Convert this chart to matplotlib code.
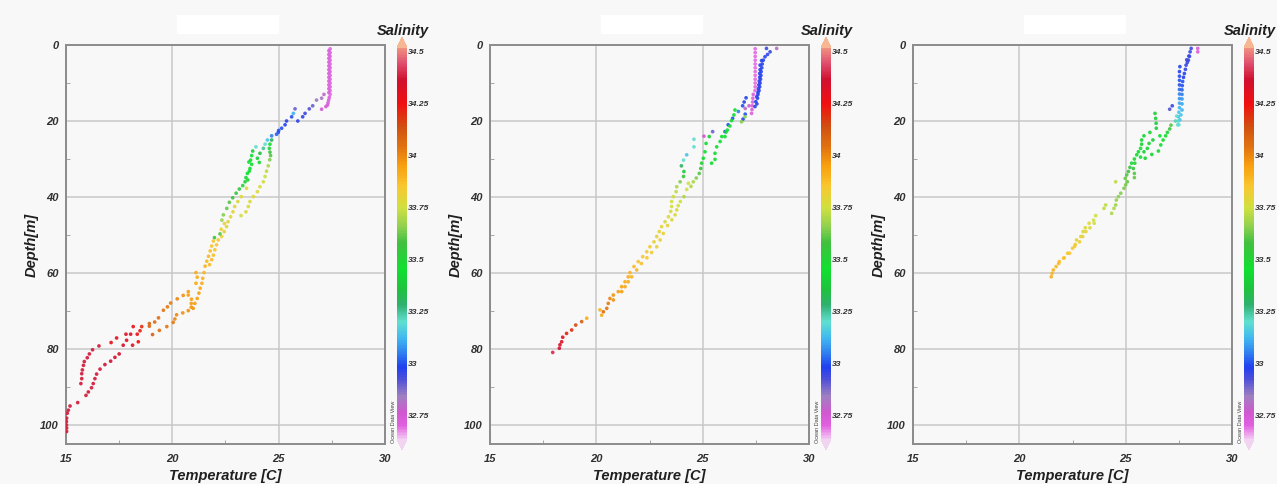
import matplotlib
matplotlib.use('Agg')
import matplotlib.pyplot as plt
from matplotlib.colors import LinearSegmentedColormap, Normalize
from matplotlib.patches import Rectangle
from matplotlib.ticker import MultipleLocator

plt.rcParams['font.family'] = ['Liberation Sans', 'DejaVu Sans']

# ---- data (depth m, temperature C, salinity) ----
st1_depth = (
    [1, 2, 3, 4, 5, 6, 7, 8, 9, 10, 11, 12, 13]
    + [1.5, 2.5, 3.5, 4.5, 5.5, 6.5, 7.5, 8.5, 9.5, 10.5, 11.5, 12.5]
    + [13.8, 14.5, 15.2, 15.8, 16.2, 16.9]
    + [13, 14, 14.5, 16, 16.8, 18, 18.9, 20, 16.8, 18, 18.9, 20, 21, 21.9, 22.5, 23, 23.5, 23.9]
    + [25, 26.1, 27.2, 28.2, 29.1, 30.2, 31.8, 33.2, 34.6, 36, 37.3, 38.6, 39.9, 41.2, 42.5, 43.9, 44.9]
    + [25, 26.1, 27.2, 28.5, 29.8, 30.9]
    + [26.8, 27.9, 29.1, 30.3, 31.4, 32.5, 33.8, 34.9, 36, 37, 37.9, 39, 40.2, 41.4, 43, 44.7, 46.1, 30.8, 33.2, 35.5]
    + [37.7, 39.9, 41.2, 42.5, 43.9, 45.2, 46.5, 47.8, 49.1, 50.4]
    + [49.7, 50.7]
    + [47, 48.5, 51.3, 52.6, 53.9, 55.3, 51.6, 52.9, 54.2, 55.6, 56.9, 58.2, 56.5, 57.8]
    + [59.9, 61.1, 62.7, 64.9, 65.8, 66.9, 68, 69, 69.9, 70.5, 71, 72.1, 73]
    + [59.9, 61.4, 62.7, 64, 65.3, 66.7, 68, 69.3]
    + [66.8, 65.9, 67.9, 68.9, 69.8, 71.8, 72.9, 73.3, 74, 74.1, 75.1, 76.2]
    + [74.1, 75.2, 76.1, 74.1, 76.1, 78.1, 79, 77.7, 76.1, 79, 77.1, 78.3]
    + [79.2, 80.2, 81.3, 82.3, 83.3, 84.3, 85.5, 86.5, 87.8, 89.1]
    + [81.3, 82.2, 83.2, 84.1, 85.3, 86.6, 87.8, 89.1, 90.2, 91.3, 92.2, 94.1, 95, 96.1, 96.9, 98.2, 99.1, 100, 100.8, 101.7]
)
st1_temp = (
    [27.42, 27.42, 27.42, 27.42, 27.42, 27.42, 27.42, 27.42, 27.42, 27.42, 27.42, 27.42, 27.42]
    + [27.36, 27.36, 27.36, 27.36, 27.36, 27.36, 27.36, 27.36, 27.36, 27.36, 27.36, 27.36]
    + [27.38, 27.35, 27.32, 27.3, 27.22, 27.02]
    + [27.13, 27.02, 26.78, 26.6, 26.44, 26.24, 26.13, 25.9, 25.77, 25.69, 25.61, 25.37, 25.3, 25.14, 25.0, 24.98, 24.9, 24.67]
    + [24.67, 24.59, 24.56, 24.59, 24.62, 24.58, 24.51, 24.43, 24.36, 24.28, 24.12, 24.0, 23.81, 23.65, 23.57, 23.46, 23.23]
    + [24.47, 24.36, 24.28, 24.12, 24.0, 24.09]
    + [23.93, 23.78, 23.73, 23.68, 23.73, 23.65, 23.53, 23.46, 23.42, 23.31, 23.15, 23.0, 22.84, 22.68, 22.56, 22.4, 22.33, 23.6, 23.62, 23.55]
    + [23.49, 23.24, 23.08, 22.93, 22.85, 22.74, 22.62, 22.55, 22.44, 22.32]
    + [22.24, 21.98]
    + [22.45, 22.3, 22.16, 22.08, 22.0, 21.93, 21.93, 21.85, 21.78, 21.7, 21.62, 21.54, 21.85, 21.75]
    + [21.11, 21.17, 21.11, 20.75, 20.75, 20.9, 20.89, 20.89, 20.75, 20.49, 20.2, 20.12, 20.04]
    + [21.49, 21.43, 21.39, 21.31, 21.25, 21.17, 21.06, 20.98]
    + [20.23, 20.51, 19.92, 19.77, 19.58, 19.35, 19.17, 18.92, 18.92, 19.74, 19.39, 19.07]
    + [18.56, 18.48, 18.35, 18.16, 18.04, 18.4, 18.13, 17.85, 17.82, 17.69, 17.38, 17.12]
    + [16.55, 16.25, 16.1, 16.0, 15.86, 15.82, 15.77, 15.74, 15.74, 15.7]
    + [17.5, 17.3, 17.1, 16.83, 16.6, 16.44, 16.36, 16.28, 16.2, 16.05, 15.94, 15.55, 15.19, 15.11, 15.06, 15.03, 15.02, 15.02, 15.03, 15.03]
)
st1_sal = (
    [32.70, 32.70, 32.70, 32.70, 32.70, 32.70, 32.70, 32.70, 32.70, 32.70, 32.70, 32.70, 32.70]
    + [32.72, 32.72, 32.72, 32.72, 32.72, 32.72, 32.72, 32.72, 32.72, 32.72, 32.72, 32.72]
    + [32.72, 32.72, 32.73, 32.74, 32.75, 32.76]
    + [32.80, 32.82, 32.85, 32.90, 32.92, 32.95, 32.96, 32.97, 32.90, 33.12, 33.00, 32.97, 32.98, 33.00, 33.00, 33.00, 33.02, 33.05]
    + [33.30, 33.45, 33.50, 33.55, 33.60, 33.65, 33.70, 33.72, 33.74, 33.76, 33.77, 33.78, 33.78, 33.78, 33.78, 33.78, 33.76]
    + [33.15, 33.20, 33.25, 33.35, 33.40, 33.45]
    + [33.20, 33.40, 33.45, 33.45, 33.45, 33.45, 33.45, 33.45, 33.50, 33.50, 33.55, 33.55, 33.58, 33.60, 33.62, 33.65, 33.68, 33.45, 33.45, 33.50]
    + [33.78, 33.78, 33.78, 33.80, 33.80, 33.80, 33.80, 33.80, 33.82, 33.82]
    + [33.60, 33.55]
    + [33.80, 33.82, 33.85, 33.85, 33.86, 33.87, 33.85, 33.86, 33.87, 33.88, 33.88, 33.90, 33.88, 33.88]
    + [33.92, 33.92, 33.93, 33.95, 33.95, 33.95, 33.96, 33.97, 33.98, 33.98, 34.00, 34.00, 34.02]
    + [33.90, 33.90, 33.92, 33.93, 33.94, 33.95, 33.96, 33.97]
    + [34.00, 33.98, 34.02, 34.03, 34.04, 34.05, 34.06, 34.08, 34.08, 34.04, 34.06, 34.10]
    + [34.20, 34.22, 34.25, 34.28, 34.30, 34.25, 34.30, 34.30, 34.32, 34.35, 34.30, 34.28]
    + [34.38, 34.38, 34.38, 34.38, 34.38, 34.38, 34.38, 34.38, 34.38, 34.38]
    + [34.35, 34.35, 34.36, 34.37, 34.38, 34.38, 34.38, 34.38, 34.38, 34.38, 34.38, 34.38, 34.38, 34.38, 34.38, 34.38, 34.38, 34.38, 34.38, 34.38]
)

st2_depth = (
    [1, 2, 3, 4, 5, 6, 7, 8, 9, 10, 11, 12]
    + [13, 14, 15, 16, 17, 18]
    + [16.0, 16.7]
    + [0.9, 1.8, 3.1, 4.1, 5.3, 6.5, 7.5, 8.5, 9.5, 10.5, 11.5, 12.5, 13.6, 14.9, 16.2]
    + [2.5, 4, 5, 6, 7, 8, 9, 10, 11, 12, 13, 14, 15.5]
    + [0.9]
    + [13.9, 15, 16, 17.5, 19.3, 21, 22.8, 18.2, 19.5]
    + [17.1, 18.4, 19.9, 21.3, 22.4, 24.1, 25.4, 26.8, 28.5, 30.1, 31.1, 24.1, 22.9]
    + [18.9, 20.2]
    + [22.8, 24.1, 25.9, 28.1, 29.8, 31.1, 32.5, 33.8, 35, 36, 37.2, 24.0]
    + [24.8, 26.8, 28.9, 30.3, 31.8, 33.3, 34.6, 36, 37.3, 38.6, 39.9, 41.2, 42.5, 43.8, 45.2, 46.5, 47.8, 49.1, 50.4,
       51.8, 53.1, 54.4, 55.7, 57, 58.3, 59.9, 61, 62.3, 63.6, 64.9, 65.8, 66.7, 68, 69.3, 70.2, 69.7, 71.1]
    + [36.4, 38, 39.9, 41.2, 42.3, 43.4, 44.7, 46, 47.5, 49.6, 51.3, 53.1, 54.6, 56, 57.5, 59.2, 61, 62.3, 63.6, 64.9, 67.1]
    + [71.9, 72.8, 73.7, 75, 75.9, 76.9, 78.1, 78.9, 79.8, 80.9]
)
st2_temp = (
    [27.47, 27.47, 27.47, 27.47, 27.47, 27.47, 27.47, 27.47, 27.47, 27.47, 27.47, 27.46]
    + [27.38, 27.36, 27.35, 27.33, 27.32, 27.3]
    + [27.18, 27.0]
    + [28.0, 28.17, 27.93, 27.77, 27.7, 27.7, 27.68, 27.68, 27.66, 27.64, 27.62, 27.6, 27.54, 27.5, 27.46]
    + [28.05, 27.85, 27.8, 27.78, 27.75, 27.74, 27.72, 27.7, 27.68, 27.65, 27.6, 27.58, 27.55]
    + [28.48]
    + [27.04, 26.95, 26.88, 26.68, 26.41, 26.2, 26.05, 27.0, 26.9]
    + [26.52, 26.47, 26.36, 26.28, 26.16, 26.05, 25.82, 25.66, 25.58, 25.58, 25.42, 25.9, 26.1]
    + [26.99, 26.83]
    + [25.47, 25.31, 25.16, 25.11, 25.03, 24.95, 24.91, 24.84, 24.7, 24.56, 24.45, 25.06]
    + [24.59, 24.59, 24.25, 24.1, 24.0, 24.12, 24.1, 23.94, 23.78, 23.75, 23.62, 23.54, 23.54, 23.5, 23.39, 23.23, 23.07, 22.96, 22.84,
       22.71, 22.52, 22.37, 22.18, 21.97, 21.77, 21.58, 21.5, 21.35, 21.19, 21.03, 20.8, 20.64, 20.56, 20.49, 20.33, 20.17, 20.25]
    + [24.33, 24.25, 24.12, 23.95, 23.85, 23.78, 23.7, 23.55, 23.35, 23.15, 23.0, 22.84, 22.6, 22.38, 22.12, 21.9, 21.66, 21.5, 21.35, 21.19, 20.8]
    + [19.55, 19.31, 19.03, 18.84, 18.6, 18.42, 18.37, 18.29, 18.26, 17.95]
)
st2_sal = (
    [32.70, 32.70, 32.70, 32.70, 32.70, 32.70, 32.70, 32.70, 32.70, 32.70, 32.70, 32.70]
    + [32.72, 32.72, 32.72, 32.72, 32.72, 32.72]
    + [32.76, 32.80]
    + [32.95, 32.95, 32.97, 32.97, 32.97, 32.97, 32.97, 32.97, 32.97, 32.97, 32.97, 32.97, 32.97, 32.97, 32.97]
    + [32.96, 32.97, 32.97, 32.97, 32.97, 32.97, 32.97, 32.97, 32.97, 32.97, 32.97, 32.97, 32.97]
    + [32.80]
    + [32.97, 32.97, 33.00, 33.05, 33.00, 32.98, 33.00, 33.00, 32.98]
    + [33.45, 33.45, 33.45, 33.45, 33.45, 33.45, 33.45, 33.45, 33.45, 33.45, 33.45, 33.45, 33.45]
    + [33.65, 33.65]
    + [32.90, 33.40, 33.45, 33.45, 33.45, 33.50, 33.55, 33.60, 33.65, 33.70, 33.70, 32.75]
    + [33.20, 33.20, 33.15, 33.20, 33.30, 33.40, 33.55, 33.65, 33.70, 33.72, 33.74, 33.75, 33.76, 33.77, 33.78, 33.78, 33.80, 33.80, 33.81,
       33.82, 33.83, 33.84, 33.85, 33.86, 33.88, 33.90, 33.91, 33.92, 33.94, 33.95, 33.97, 34.00, 34.02, 34.04, 34.05, 33.90, 33.92]
    + [33.75, 33.75, 33.70, 33.75, 33.76, 33.77, 33.78, 33.78, 33.80, 33.80, 33.81, 33.82, 33.84, 33.85, 33.87, 33.89, 33.90, 33.92, 33.93, 33.95, 33.98]
    + [33.92, 34.10, 34.15, 34.20, 34.22, 34.30, 34.32, 34.33, 34.35, 34.40]
)

st3_depth = (
    [0.9, 1.8]
    + [0.9, 1.8, 2.9, 3.9, 4.6, 5.3, 6.4, 7.5, 8.5, 9.6, 10.7, 11.8, 13, 14.2, 15.5, 17.1, 18.4, 19.7, 21]
    + [3, 4, 5.7, 7, 8.2, 9.3, 10.5, 11.7, 12.9, 14.1, 15.3, 16.5, 17.7, 18.9, 20, 21]
    + [16, 16.9, 18.7, 20]
    + [18, 19.3, 20.6, 21.9, 23, 23.9, 25, 26.1, 27.2, 28.1, 28.9, 30, 31.1, 32.2, 33.3, 34.2, 35.1]
    + [25, 25.9, 27.2, 28.1, 29.5, 31.1, 32.5, 33.8, 34.9]
    + [21.1, 22.1, 23, 23.9, 25, 26.3, 27.9, 28.8, 29.8, 23.9]
    + [36, 36.8, 37.7, 39, 39.9, 40.8, 42.1, 43, 44.3, 36, 42.1, 43, 44.9, 46.1, 46.9, 48.1, 49.1, 50.4, 51.3, 52.5,
       53.5, 54.8, 56, 57, 58.3, 59.2, 60.1, 61]
    + [46.9, 48.1, 49.1, 50.4, 51.8, 53, 54.8, 56.1, 57.5]
)
st3_temp = (
    [28.39, 28.39]
    + [28.08, 28.03, 27.97, 27.87, 27.9, 27.84, 27.81, 27.76, 27.72, 27.68, 27.66, 27.65, 27.65, 27.65, 27.65, 27.65, 27.6, 27.55, 27.5]
    + [28.0, 27.95, 27.55, 27.53, 27.53, 27.53, 27.53, 27.53, 27.53, 27.53, 27.53, 27.53, 27.5, 27.48, 27.48, 27.45]
    + [27.19, 27.07, 27.4, 27.34]
    + [26.38, 26.41, 26.43, 26.44, 26.14, 25.86, 25.75, 25.75, 25.7, 25.6, 25.52, 25.41, 25.28, 25.2, 25.13, 25.05, 24.98]
    + [26.28, 26.1, 26.02, 25.86, 25.7, 25.43, 25.36, 25.41, 25.41]
    + [27.13, 27.07, 26.96, 26.88, 26.76, 26.65, 26.54, 26.23, 25.92, 26.61]
    + [25.08, 25.0, 24.92, 24.77, 24.66, 24.56, 24.53, 24.45, 24.34, 24.53, 24.06, 23.98, 23.59, 23.49, 23.28, 23.1, 23.0, 22.89, 22.69, 22.63,
       22.5, 22.27, 22.11, 21.88, 21.73, 21.6, 21.54, 21.5]
    + [23.52, 23.32, 23.13, 22.98, 22.83, 22.6, 22.36, 22.08, 21.85]
)
st3_sal = (
    [32.72, 32.72]
    + [32.95, 32.95, 32.95, 32.95, 32.95, 32.96, 32.96, 32.97, 32.98, 33.00, 33.00, 33.02, 33.05, 33.08, 33.10, 33.12, 33.15, 33.15, 33.20]
    + [32.95, 32.95, 32.97, 32.98, 32.99, 33.00, 33.00, 33.02, 33.05, 33.07, 33.10, 33.12, 33.15, 33.15, 33.18, 33.20]
    + [32.95, 32.92, 33.20, 33.22]
    + [33.40, 33.40, 33.40, 33.40, 33.42, 33.42, 33.42, 33.42, 33.45, 33.45, 33.45, 33.48, 33.50, 33.55, 33.58, 33.60, 33.62]
    + [33.40, 33.42, 33.42, 33.42, 33.45, 33.50, 33.55, 33.60, 33.62]
    + [33.60, 33.55, 33.50, 33.45, 33.45, 33.45, 33.45, 33.42, 33.42, 33.45]
    + [33.62, 33.63, 33.64, 33.65, 33.66, 33.67, 33.68, 33.70, 33.70, 33.72, 33.72, 33.73, 33.75, 33.76, 33.78, 33.78, 33.80, 33.80, 33.82, 33.83,
       33.84, 33.85, 33.86, 33.87, 33.88, 33.90, 33.90, 33.90]
    + [33.76, 33.78, 33.79, 33.80, 33.82, 33.83, 33.85, 33.86, 33.88]
)

stations = [(st1_depth, st1_temp, st1_sal),
            (st2_depth, st2_temp, st2_sal),
            (st3_depth, st3_temp, st3_sal)]

sal_ticks = [32.75, 33, 33.25, 33.5, 33.75, 34, 34.25, 34.5]
sal_tick_labels = ['32.75', '33', '33.25', '33.5', '33.75', '34', '34.25', '34.5']
sal_min, sal_max = 32.635, 34.52

# ODV-like rainbow colour scale
stops = [(32.635, '#f2c6f2'), (32.70, '#e060e0'), (32.76, '#d058d0'), (32.84, '#a080c0'),
         (32.92, '#5050d8'), (32.98, '#2040f0'), (33.05, '#3080f0'), (33.12, '#40b8f0'),
         (33.20, '#60e0d0'), (33.28, '#30b070'), (33.35, '#20c040'), (33.45, '#10e030'),
         (33.58, '#40c040'), (33.66, '#90d050'), (33.75, '#d0e040'), (33.85, '#f8c830'),
         (33.95, '#f8a010'), (34.05, '#e07010'), (34.14, '#d05010'), (34.25, '#f01010'),
         (34.37, '#d01030'), (34.45, '#e05070'), (34.52, '#f09080')]
cmap = LinearSegmentedColormap.from_list(
    'odv', [((v - sal_min) / (sal_max - sal_min), c) for v, c in stops])
cmap.set_over('#f8b088')
cmap.set_under('#f0d0f0')
norm = Normalize(vmin=sal_min, vmax=sal_max)

W, H = 1277, 484
bg = '#f8f8f8'
fig = plt.figure(figsize=(W / 100, H / 100), dpi=100, facecolor=bg)

lefts = [66, 490, 913]
for left, (dep, tmp, sal) in zip(lefts, stations):
    ax = fig.add_axes([left / W, 1 - 444 / H, 319 / W, 399 / H])
    ax.set_facecolor(bg)
    sc = ax.scatter(tmp, dep, c=sal, cmap=cmap, norm=norm, s=7, marker='o',
                    linewidths=0, alpha=0.9, zorder=3)
    ax.set_xlim(15, 30)
    ax.set_ylim(105, 0)
    ax.set_xticks([15, 20, 25, 30])
    ax.set_yticks([0, 20, 40, 60, 80, 100])
    ax.xaxis.set_minor_locator(MultipleLocator(2.5))
    ax.yaxis.set_minor_locator(MultipleLocator(10))
    ax.grid(True, which='major', color='#c8c8c8', lw=1.1, zorder=1)
    for sp in ax.spines.values():
        sp.set_color('#8c8c8c')
        sp.set_linewidth(1.4)
    ax.tick_params(which='major', length=0, labelsize=8, labelcolor='#303030')
    ax.tick_params(axis='x', which='major', pad=7)
    ax.tick_params(axis='y', which='major', pad=5)
    ax.tick_params(which='minor', direction='in', length=3, color='#999999')
    for lab in ax.get_xticklabels() + ax.get_yticklabels():
        lab.set_fontweight('bold')
        lab.set_fontstyle('italic')
    ax.set_xlabel('Temperature [C]', fontsize=10.5, fontweight='bold',
                  fontstyle='italic', color='#202020', labelpad=4)
    ax.set_ylabel('Depth[m]', fontsize=10.5, fontweight='bold',
                  fontstyle='italic', color='#202020', labelpad=1)

    # colour bar
    cax = fig.add_axes([(left + 331) / W, 1 - 450 / H, 10 / W, 413 / H])
    cb = fig.colorbar(sc, cax=cax, extend='both', extendfrac=0.027)
    cb.solids.set_alpha(1)
    cb.outline.set_visible(False)
    cb.set_ticks(sal_ticks)
    cb.set_ticklabels(sal_tick_labels)
    cax.tick_params(length=0, pad=1, labelsize=6.1, labelcolor='#303030')
    for lab in cax.get_yticklabels():
        lab.set_fontweight('bold')
        lab.set_fontstyle('italic')
    fig.text((left + 337) / W, 1 - 31 / H, 'Salinity', ha='center', va='center',
             fontsize=10.5, fontweight='bold', fontstyle='italic', color='#202020')
    fig.text((left + 327.5) / W, 1 - 443 / H, 'Ocean Data View', rotation=90,
             ha='center', va='bottom', fontsize=4, color='#404040')

    # blank title box
    fig.patches.append(Rectangle(((left + 111) / W, 1 - 34 / H), 102 / W, 19 / H,
                                 transform=fig.transFigure, facecolor='white',
                                 edgecolor='none'))

fig.savefig('out.png', dpi=100, facecolor=bg)
